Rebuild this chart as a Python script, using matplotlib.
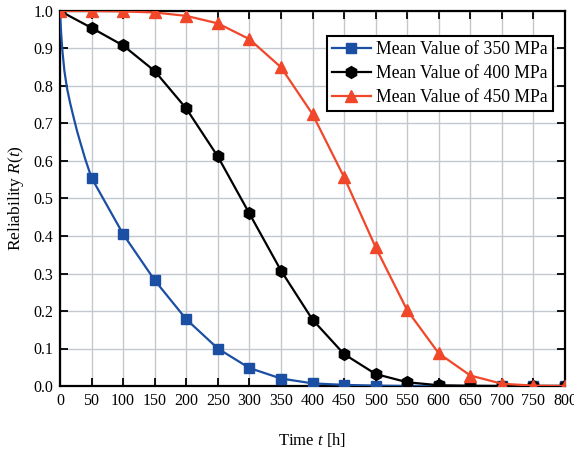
import numpy as np
import matplotlib
matplotlib.use("Agg")
import matplotlib.pyplot as plt

plt.rcParams['font.family'] = ['Liberation Serif', 'DejaVu Serif']
plt.rcParams['mathtext.fontset'] = 'custom'
plt.rcParams['mathtext.it'] = 'Liberation Serif:italic'
plt.rcParams['mathtext.rm'] = 'Liberation Serif'

# marker positions (every 50 h)
t = np.arange(0, 801, 50)
r350 = [1.0, 0.555, 0.405, 0.282, 0.178, 0.100, 0.048, 0.020, 0.007,
        0.003, 0.001, 0.0, 0.0, 0.0, 0.0, 0.0, 0.0]
r400 = [1.0, 0.955, 0.908, 0.840, 0.740, 0.612, 0.460, 0.308, 0.177,
        0.085, 0.032, 0.010, 0.002, 0.0005, 0.0, 0.0, 0.0]
r450 = [1.0, 1.0, 0.999, 0.996, 0.987, 0.967, 0.925, 0.850, 0.725,
        0.557, 0.370, 0.202, 0.087, 0.028, 0.006, 0.001, 0.0]

t350_start = [0, 1, 2, 4, 7, 11, 16, 21, 27, 33, 40, 45]
r350_start = [1.0, 0.965, 0.935, 0.89, 0.84, 0.795, 0.755, 0.72, 0.68, 0.645, 0.605, 0.58]

labels = ['Mean Value of 350 MPa', 'Mean Value of 400 MPa', 'Mean Value of 450 MPa']
colors = ['#1a4fa3', '#000000', '#f0472a']

fig = plt.figure(figsize=(5.74, 4.5), dpi=100)
ax = fig.add_axes([60/574, 64/450, 505/574, 375/450])

t350_line = t350_start + list(t[1:])
r350_line = r350_start + r350[1:]
ax.plot(t350_line, r350_line, color=colors[0], lw=1.6, zorder=3)
ax.plot(t, r350, color=colors[0], lw=0, marker='s', ms=7.5, zorder=4)
ax.plot([], [], color=colors[0], lw=1.6, marker='s', ms=7.5, label=labels[0])

ax.plot(t, r400, color=colors[1], lw=1.6, marker='h', ms=8.5, label=labels[1], zorder=5)
ax.plot(t, r450, color=colors[2], lw=1.6, marker='^', ms=9, label=labels[2], zorder=6)

ax.set_xlim(0, 800)
ax.set_ylim(0, 1.0)
ax.set_xticks(t)
ax.set_yticks(np.arange(0, 1.01, 0.1))
ax.set_yticklabels(['%.1f' % v for v in np.arange(0, 1.01, 0.1)])
ax.grid(True, color='#c3c8ce', lw=1.0)
ax.set_axisbelow(True)
ax.tick_params(direction='in', length=6, width=1.3, top=True, right=True,
               labelsize=11.5, pad=5)
for s in ax.spines.values():
    s.set_linewidth(1.6)

ax.set_xlabel('Time $t$ [h]', fontsize=12, labelpad=16)
ax.set_ylabel('Reliability $R(t)$', fontsize=12.5, labelpad=5)

leg = ax.legend(loc='upper right', bbox_to_anchor=(0.976, 0.933), fontsize=12.7,
                frameon=True, fancybox=False, edgecolor='black', framealpha=1,
                handlelength=2.2, borderpad=0.3, labelspacing=0.38, handletextpad=0.3,
                borderaxespad=0)
leg.get_frame().set_linewidth(1.5)

fig.savefig('out.png', dpi=100)
